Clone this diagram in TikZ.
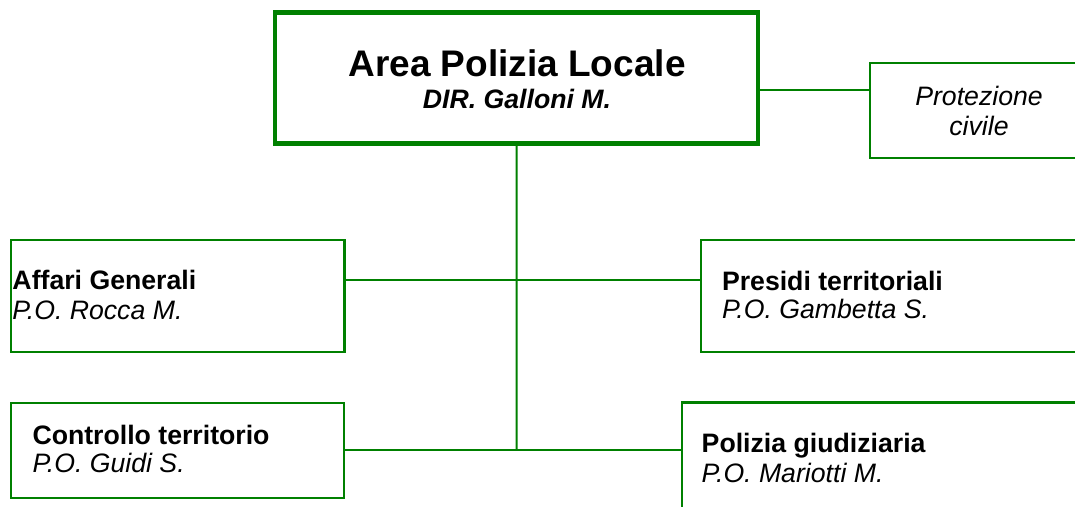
\documentclass[tikz,border=0pt]{standalone}
\usepackage{fontspec}
\setmainfont{Liberation Sans}
\definecolor{orgGreen}{RGB}{0,128,0}
\tikzset{
  box/.style={draw=orgGreen, fill=white, line width=2.2pt, rectangle, inner sep=0pt, outer sep=0pt, anchor=north west},
  mainbox/.style={box, line width=4.6pt},
  conn/.style={draw=orgGreen, line width=2pt},
  lbl/.style={inner sep=0pt, outer sep=0pt, anchor=base west, font=\fontsize{26.67}{30}\selectfont},
  clbl/.style={lbl, anchor=base},
  titlelbl/.style={inner sep=0pt, outer sep=0pt, anchor=base, font=\fontsize{37}{40}\selectfont\bfseries}
}
\begin{document}
\begin{tikzpicture}[x=1pt,y=-1pt]
\clip (0,0) rectangle (1075,506);
\fill[white] (0,0) rectangle (1075,506);
% junction coordinates
\coordinate (jtop) at (516.7,90);
\coordinate (j1) at (516.7,280.3);
\coordinate (j2) at (516.7,450);
% boxes
\node[mainbox, minimum width=483pt, minimum height=131pt] (area) at (275,12.5) {};
\node[box, minimum width=240pt, minimum height=95pt] (prot) at (870,63.3) {};
\node[box, minimum width=333.5pt, minimum height=112pt] (aff) at (11,240) {};
\node[box, minimum width=400pt, minimum height=112pt] (pres) at (701,240) {};
\node[box, minimum width=333pt, minimum height=95pt] (contr) at (11,403) {};
\node[box, minimum width=420pt, minimum height=140pt] (poli) at (682,402.5) {};
% connectors
\draw[conn] (area.south) -- (j2);
\draw[conn] (area.east |- jtop) -- (prot.west |- jtop);
\draw[conn] (aff.east |- j1) -- (pres.west |- j1);
\draw[conn] (contr.east |- j2) -- (poli.west |- j2);
% texts
\node[titlelbl] (t1) at (517,76.5) {Area Polizia Locale};
\node[clbl, font=\fontsize{26.67}{30}\selectfont\bfseries\itshape] (t2) at (517,108.5) {DIR. Galloni M.};
\node[clbl, font=\fontsize{26.67}{30}\selectfont\itshape] (p1) at (979,105.5) {Protezione};
\node[clbl, font=\fontsize{26.67}{30}\selectfont\itshape] (p2) at (979,135.5) {civile};
\node[lbl, font=\fontsize{26.67}{30}\selectfont\bfseries] (a1) at (12.5,289.5) {Affari Generali};
\node[lbl, font=\fontsize{26.67}{30}\selectfont\itshape] (a2) at (12.5,319.5) {P.O. Rocca M.};
\node[lbl, font=\fontsize{26.67}{30}\selectfont\bfseries] (r1) at (722,290.5) {Presidi territoriali};
\node[lbl, font=\fontsize{26.67}{30}\selectfont\itshape] (r2) at (722,318.8) {P.O. Gambetta S.};
\node[lbl, font=\fontsize{26.67}{30}\selectfont\bfseries] (c1) at (32.5,444.5) {Controllo territorio};
\node[lbl, font=\fontsize{26.67}{30}\selectfont\itshape] (c2) at (32.5,472) {P.O. Guidi S.};
\node[lbl, font=\fontsize{26.67}{30}\selectfont\bfseries] (g1) at (701.7,452) {Polizia giudiziaria};
\node[lbl, font=\fontsize{26.67}{30}\selectfont\itshape] (g2) at (701.7,482) {P.O. Mariotti M.};
\end{tikzpicture}
\end{document}
